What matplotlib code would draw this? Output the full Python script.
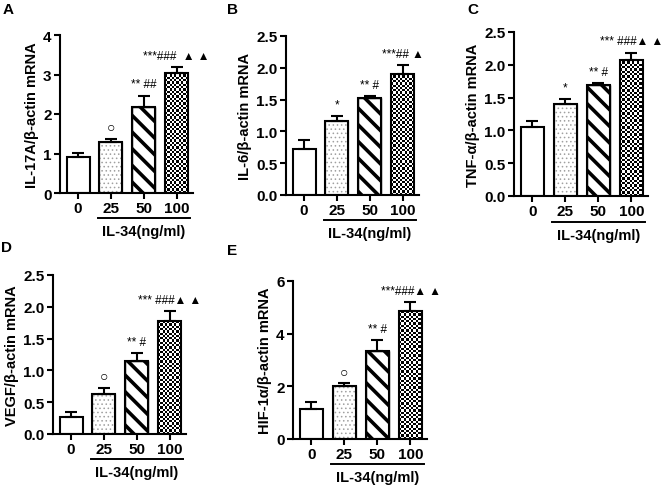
import numpy as np
import matplotlib
matplotlib.use("Agg")
import matplotlib.pyplot as plt

plt.rcParams["font.family"] = ["Liberation Sans", "DejaVu Sans"]

doses = ["0", "25", "50", "100"]
xlabel = "IL-34(ng/ml)"

# panel data: means, upper error, significance marks
il17_mean = [0.92, 1.30, 2.18, 3.05]
il17_err = [0.10, 0.07, 0.28, 0.13]
il17_marks = ["", "○", "** ##", "***###  ▲ ▲"]

il6_mean = [0.72, 1.17, 1.53, 1.91]
il6_err = [0.15, 0.08, 0.02, 0.13]
il6_marks = ["", "*", "** #", "***## ▲"]

tnf_mean = [1.05, 1.41, 1.69, 2.08]
tnf_err = [0.10, 0.07, 0.03, 0.10]
tnf_marks = ["", "*", "** #", "*** ###▲ ▲"]

vegf_mean = [0.27, 0.63, 1.14, 1.77]
vegf_err = [0.07, 0.10, 0.13, 0.16]
vegf_marks = ["", "○", "** #", "*** ###▲ ▲"]

hif_mean = [1.15, 2.00, 3.35, 4.85]
hif_err = [0.25, 0.12, 0.40, 0.35]
hif_marks = ["", "○", "** #", "***###▲ ▲"]

panels = [
    ("A", "IL-17A/β-actin mRNA", il17_mean, il17_err, il17_marks, [0, 1, 2, 3, 4], "{:.0f}",
     [60, 36, 133, 158], (8, 10)),
    ("B", "IL-6/β-actin mRNA", il6_mean, il6_err, il6_marks, [0, 0.5, 1.0, 1.5, 2.0, 2.5], "{:.1f}",
     [286, 37, 133, 159], (232, 10)),
    ("C", "TNF-α/β-actin mRNA", tnf_mean, tnf_err, tnf_marks, [0, 0.5, 1.0, 1.5, 2.0, 2.5], "{:.1f}",
     [514, 33, 134, 164], (473, 10)),
    ("D", "VEGF/β-actin mRNA", vegf_mean, vegf_err, vegf_marks, [0, 0.5, 1.0, 1.5, 2.0, 2.5], "{:.1f}",
     [53, 276, 133, 159], (7, 248)),
    ("E", "HIF-1α/β-actin mRNA", hif_mean, hif_err, hif_marks, [0, 2, 4, 6], "{:.0f}",
     [293, 282, 134, 158], (232, 251)),
]

W, H = 669, 489
fig = plt.figure(figsize=(W / 100, H / 100), dpi=100)
XLIM = (-0.55, 3.5)


def checker(ax, bar, cell=2.3):
    # checkerboard texture clipped to the bar
    x0, y0 = bar.get_x(), bar.get_y()
    x1, y1 = x0 + bar.get_width(), y0 + bar.get_height()
    p0 = ax.transData.transform((x0, y0))
    p1 = ax.transData.transform((x1, y1))
    nc = max(1, int(round(abs(p1[0] - p0[0]) / cell)))
    nr = max(1, int(round(abs(p1[1] - p0[1]) / cell)))
    board = np.indices((nr, nc)).sum(axis=0) % 2
    im = ax.imshow(board, cmap="gray", extent=(x0, x1, y0, y1), aspect="auto",
                   interpolation="nearest", zorder=1.5, origin="lower")
    im.set_clip_path(bar)


for letter, ylab, mean, err, marks, yticks, fmt, box, lpos in panels:
    l, t, w, h = box
    ax = fig.add_axes([l / W, 1 - (t + h) / H, w / W, h / H])
    x = np.arange(len(mean))
    ymax = yticks[-1]
    ax.set_xlim(*XLIM)
    ax.set_ylim(0, ymax)

    bars = ax.bar(x, mean, width=0.7, color="white", edgecolor="none", zorder=1)
    bars[1].set_hatch("....")
    bars[1].set_edgecolor("#a0a0a0")
    bars[2].set_hatch("\\\\")
    bars[2].set_edgecolor("black")
    try:
        bars[1].set_hatch_linewidth(0.6)
        bars[2].set_hatch_linewidth(2.6)
    except AttributeError:
        pass
    fig.canvas.draw()
    checker(ax, bars[3])
    ax.bar(x, mean, width=0.7, fill=False, edgecolor="black", linewidth=1.5, zorder=2)
    ax.errorbar(x, mean, yerr=[np.zeros(len(err)), err], fmt="none", ecolor="black",
                elinewidth=1.5, capsize=4, capthick=1.5, zorder=1.8)
    ax.set_xlim(*XLIM)
    ax.set_ylim(0, ymax)

    for xi, m, e, s in zip(x, mean, err, marks):
        if s:
            ax.annotate(s, (xi, m + e), xytext=(0, 4), textcoords="offset points",
                        ha="center", va="bottom", fontsize=10 if s == "○" else 8.5,
                        annotation_clip=False)

    ax.spines["top"].set_visible(False)
    ax.spines["right"].set_visible(False)
    ax.spines["left"].set_linewidth(1.5)
    ax.spines["bottom"].set_linewidth(1.5)
    ax.set_yticks(yticks)
    ax.set_yticklabels([fmt.format(v) for v in yticks], fontsize=11, fontweight="bold")
    ax.set_xticks(x)
    ax.set_xticklabels(doses, fontsize=11, fontweight="bold")
    ax.tick_params(width=1.5, length=4, pad=2)
    ax.set_ylabel(ylab, fontsize=10.5, fontweight="bold", labelpad=3)

    ax.plot([0.6, 3.42], [-0.16, -0.16], color="black", lw=1.4,
            transform=ax.get_xaxis_transform(), clip_on=False)
    ax.text(2.0, -0.195, xlabel, transform=ax.get_xaxis_transform(), ha="center",
            va="top", fontsize=10.5, fontweight="bold")

    fig.text(lpos[0] / W, 1 - lpos[1] / H, letter, fontsize=11, fontweight="bold",
             ha="center", va="center")

fig.savefig("out.png", dpi=100)
